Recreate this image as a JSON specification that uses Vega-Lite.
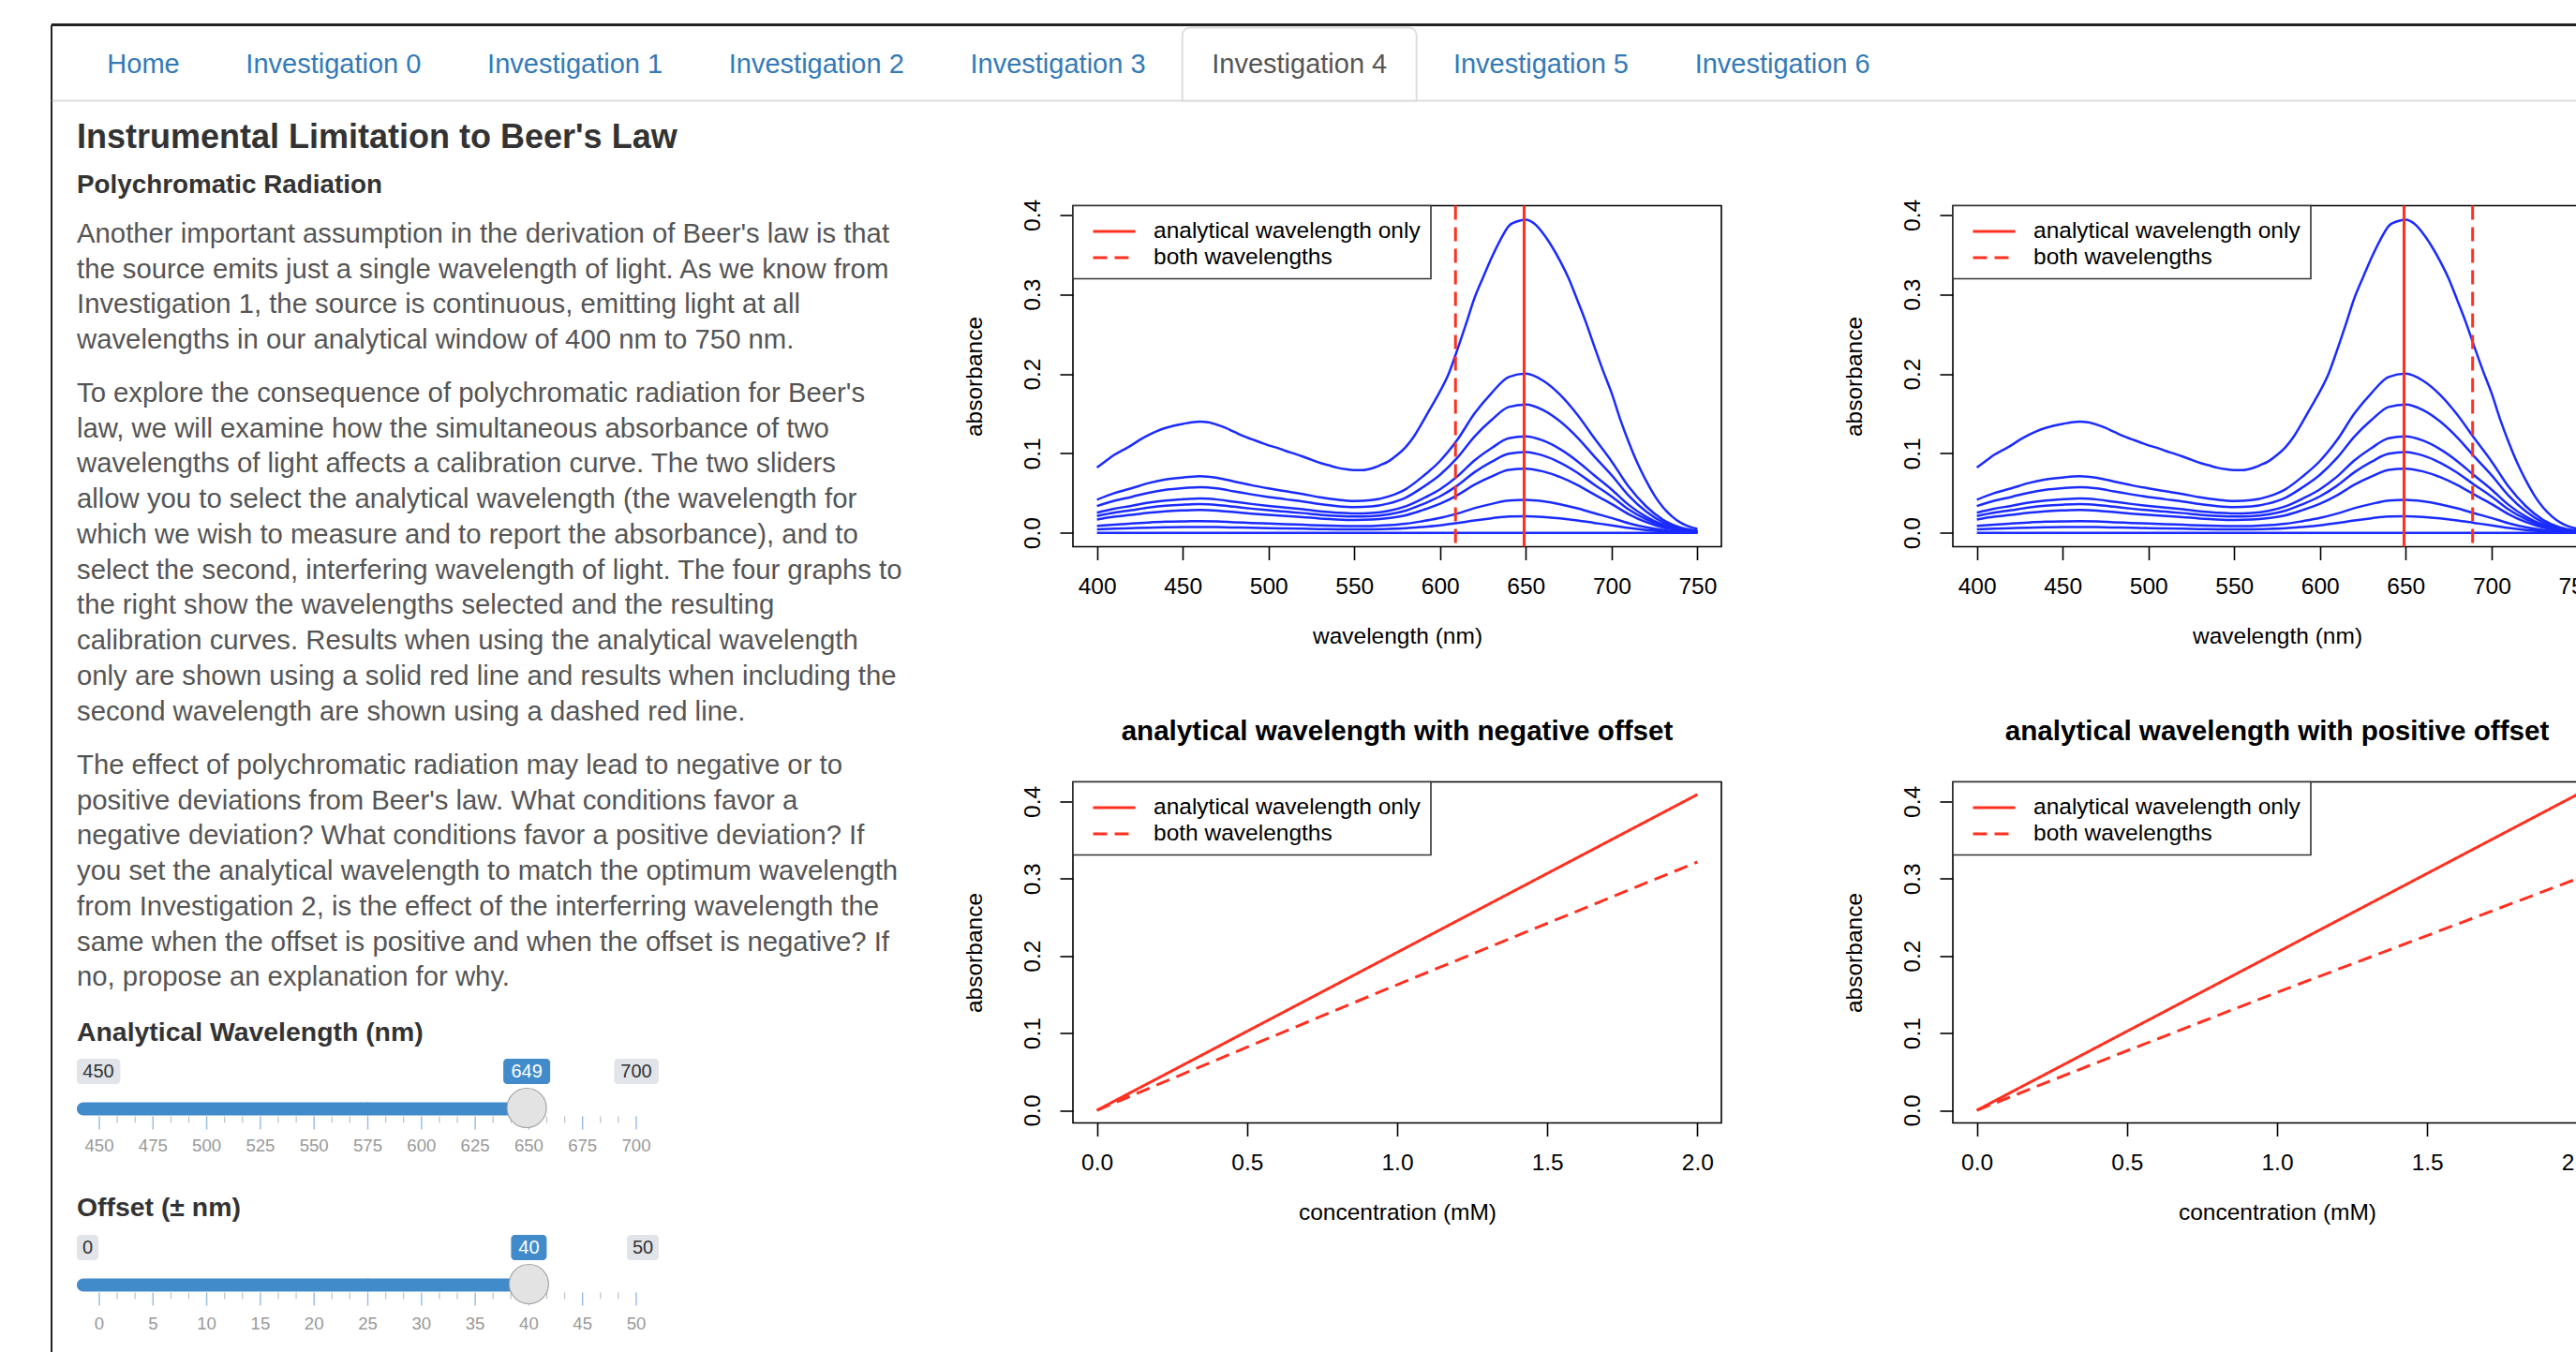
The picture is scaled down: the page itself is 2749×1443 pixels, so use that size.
{
"$schema": "https://vega.github.io/schema/vega-lite/v6.json",
"background": "white",
"padding": {"left": 53, "top": 24.5, "right": 0, "bottom": 0},
"spacing": 81,
"bounds": "flush",
"resolve": {"scale": {"strokeDash": "independent"}, "legend": {"strokeDash": "independent"}},
"config": {
  "view": {"stroke": null},
  "font": "Liberation Sans",
  "axis": {"labelFont": "Liberation Sans", "titleFont": "Liberation Sans", "labelFontSize": 24.5, "titleFontSize": 24.5, "labelColor": "#000000", "titleColor": "#000000", "titleFontWeight": "normal", "tickColor": "#000000", "tickWidth": 1.6, "tickSize": 14, "domain": false, "grid": false, "labelFlush": false, "labelOverlap": false, "labelPadding": 17},
  "axisX": {"titlePadding": 29},
  "axisY": {"labelAngle": -90, "labelAlign": "center", "labelBaseline": "bottom", "titlePadding": 37},
  "legend": {"orient": "top-left", "offset": 0, "padding": 11, "strokeColor": "#333333", "strokeWidth": 1.6, "fillColor": "white", "cornerRadius": 0, "labelFont": "Liberation Sans", "labelFontSize": 24.5, "labelColor": "#000000", "labelLimit": 500, "symbolType": "M-1.5,0H1.5", "symbolSize": 900, "symbolStrokeWidth": 3, "symbolStrokeColor": "#ff3020", "symbolFillColor": "transparent", "symbolOffset": 16.5, "labelOffset": 25.5, "rowPadding": 0},
  "title": {"font": "Liberation Sans", "fontSize": 29.6, "fontWeight": "bold", "color": "#000000", "anchor": "middle", "frame": "group", "offset": 37, "baseline": "alphabetic"}
},
"datasets": {
  "tabs": [
    {"tab": "Home", "active": false},
    {"tab": "Investigation 0", "active": false},
    {"tab": "Investigation 1", "active": false},
    {"tab": "Investigation 2", "active": false},
    {"tab": "Investigation 3", "active": false},
    {"tab": "Investigation 4", "active": true},
    {"tab": "Investigation 5", "active": false},
    {"tab": "Investigation 6", "active": false}
  ],
  "doc": [
    {"block": "title", "line": 1, "text": "Instrumental Limitation to Beer's Law"},
    {"block": "sub", "line": 1, "text": "Polychromatic Radiation"},
    {"block": "p1", "line": 1, "text": "Another important assumption in the derivation of Beer's law is that"},
    {"block": "p1", "line": 2, "text": "the source emits just a single wavelength of light. As we know from"},
    {"block": "p1", "line": 3, "text": "Investigation 1, the source is continuous, emitting light at all"},
    {"block": "p1", "line": 4, "text": "wavelengths in our analytical window of 400 nm to 750 nm."},
    {"block": "p2", "line": 1, "text": "To explore the consequence of polychromatic radiation for Beer's"},
    {"block": "p2", "line": 2, "text": "law, we will examine how the simultaneous absorbance of two"},
    {"block": "p2", "line": 3, "text": "wavelengths of light affects a calibration curve. The two sliders"},
    {"block": "p2", "line": 4, "text": "allow you to select the analytical wavelength (the wavelength for"},
    {"block": "p2", "line": 5, "text": "which we wish to measure and to report the absorbance), and to"},
    {"block": "p2", "line": 6, "text": "select the second, interfering wavelength of light. The four graphs to"},
    {"block": "p2", "line": 7, "text": "the right show the wavelengths selected and the resulting"},
    {"block": "p2", "line": 8, "text": "calibration curves. Results when using the analytical wavelength"},
    {"block": "p2", "line": 9, "text": "only are shown using a solid red line and results when including the"},
    {"block": "p2", "line": 10, "text": "second wavelength are shown using a dashed red line."},
    {"block": "p3", "line": 1, "text": "The effect of polychromatic radiation may lead to negative or to"},
    {"block": "p3", "line": 2, "text": "positive deviations from Beer's law. What conditions favor a"},
    {"block": "p3", "line": 3, "text": "negative deviation? What conditions favor a positive deviation? If"},
    {"block": "p3", "line": 4, "text": "you set the analytical wavelength to match the optimum wavelength"},
    {"block": "p3", "line": 5, "text": "from Investigation 2, is the effect of the interferring wavelength the"},
    {"block": "p3", "line": 6, "text": "same when the offset is positive and when the offset is negative? If"},
    {"block": "p3", "line": 7, "text": "no, propose an explanation for why."},
    {"block": "lab1", "line": 1, "text": "Analytical Wavelength (nm)"},
    {"block": "lab2", "line": 1, "text": "Offset (± nm)"}
  ],
  "sliders": [
    {"id": "wl", "min": 450, "max": 700, "value": 649},
    {"id": "off", "min": 0, "max": 50, "value": 40}
  ],
  "grid": [
    {"id":"wl","v":450,"major":true},{"id":"wl","v":475,"major":true},{"id":"wl","v":500,"major":true},{"id":"wl","v":525,"major":true},{"id":"wl","v":550,"major":true},{"id":"wl","v":575,"major":true},{"id":"wl","v":600,"major":true},{"id":"wl","v":625,"major":true},{"id":"wl","v":650,"major":true},{"id":"wl","v":675,"major":true},{"id":"wl","v":700,"major":true},
    {"id":"wl","v":458.33,"major":false},{"id":"wl","v":466.67,"major":false},{"id":"wl","v":483.33,"major":false},{"id":"wl","v":491.67,"major":false},{"id":"wl","v":508.33,"major":false},{"id":"wl","v":516.67,"major":false},{"id":"wl","v":533.33,"major":false},{"id":"wl","v":541.67,"major":false},{"id":"wl","v":558.33,"major":false},{"id":"wl","v":566.67,"major":false},{"id":"wl","v":583.33,"major":false},{"id":"wl","v":591.67,"major":false},{"id":"wl","v":608.33,"major":false},{"id":"wl","v":616.67,"major":false},{"id":"wl","v":633.33,"major":false},{"id":"wl","v":641.67,"major":false},{"id":"wl","v":658.33,"major":false},{"id":"wl","v":666.67,"major":false},{"id":"wl","v":683.33,"major":false},{"id":"wl","v":691.67,"major":false},
    {"id":"off","v":0,"major":true},{"id":"off","v":5,"major":true},{"id":"off","v":10,"major":true},{"id":"off","v":15,"major":true},{"id":"off","v":20,"major":true},{"id":"off","v":25,"major":true},{"id":"off","v":30,"major":true},{"id":"off","v":35,"major":true},{"id":"off","v":40,"major":true},{"id":"off","v":45,"major":true},{"id":"off","v":50,"major":true},
    {"id":"off","v":1.67,"major":false},{"id":"off","v":3.33,"major":false},{"id":"off","v":6.67,"major":false},{"id":"off","v":8.33,"major":false},{"id":"off","v":11.67,"major":false},{"id":"off","v":13.33,"major":false},{"id":"off","v":16.67,"major":false},{"id":"off","v":18.33,"major":false},{"id":"off","v":21.67,"major":false},{"id":"off","v":23.33,"major":false},{"id":"off","v":26.67,"major":false},{"id":"off","v":28.33,"major":false},{"id":"off","v":31.67,"major":false},{"id":"off","v":33.33,"major":false},{"id":"off","v":36.67,"major":false},{"id":"off","v":38.33,"major":false},{"id":"off","v":41.67,"major":false},{"id":"off","v":43.33,"major":false},{"id":"off","v":46.67,"major":false},{"id":"off","v":48.33,"major":false}
  ],
  "wl": [
    {"panel": "neg", "type": "analytical wavelength only", "w": 649},
    {"panel": "neg", "type": "both wavelengths", "w": 609},
    {"panel": "pos", "type": "analytical wavelength only", "w": 649},
    {"panel": "pos", "type": "both wavelengths", "w": 689}
  ],
  "calib": [
    {"panel":"neg","type":"analytical wavelength only","conc":0,"abs":0},{"panel":"neg","type":"analytical wavelength only","conc":0.1,"abs":0.0205},{"panel":"neg","type":"analytical wavelength only","conc":0.2,"abs":0.0409},{"panel":"neg","type":"analytical wavelength only","conc":0.4,"abs":0.0818},{"panel":"neg","type":"analytical wavelength only","conc":0.5,"abs":0.1023},{"panel":"neg","type":"analytical wavelength only","conc":0.6,"abs":0.1227},{"panel":"neg","type":"analytical wavelength only","conc":0.8,"abs":0.1636},{"panel":"neg","type":"analytical wavelength only","conc":1,"abs":0.2045},{"panel":"neg","type":"analytical wavelength only","conc":2,"abs":0.409},
    {"panel":"neg","type":"both wavelengths","conc":0,"abs":0},{"panel":"neg","type":"both wavelengths","conc":0.1,"abs":0.0164},{"panel":"neg","type":"both wavelengths","conc":0.2,"abs":0.0328},{"panel":"neg","type":"both wavelengths","conc":0.4,"abs":0.0655},{"panel":"neg","type":"both wavelengths","conc":0.5,"abs":0.0818},{"panel":"neg","type":"both wavelengths","conc":0.6,"abs":0.0979},{"panel":"neg","type":"both wavelengths","conc":0.8,"abs":0.1304},{"panel":"neg","type":"both wavelengths","conc":1,"abs":0.1626},{"panel":"neg","type":"both wavelengths","conc":2,"abs":0.3216},
    {"panel":"pos","type":"analytical wavelength only","conc":0,"abs":0},{"panel":"pos","type":"analytical wavelength only","conc":0.1,"abs":0.0205},{"panel":"pos","type":"analytical wavelength only","conc":0.2,"abs":0.0409},{"panel":"pos","type":"analytical wavelength only","conc":0.4,"abs":0.0818},{"panel":"pos","type":"analytical wavelength only","conc":0.5,"abs":0.1023},{"panel":"pos","type":"analytical wavelength only","conc":0.6,"abs":0.1227},{"panel":"pos","type":"analytical wavelength only","conc":0.8,"abs":0.1636},{"panel":"pos","type":"analytical wavelength only","conc":1,"abs":0.2045},{"panel":"pos","type":"analytical wavelength only","conc":2,"abs":0.409},
    {"panel":"pos","type":"both wavelengths","conc":0,"abs":0},{"panel":"pos","type":"both wavelengths","conc":0.1,"abs":0.0155},{"panel":"pos","type":"both wavelengths","conc":0.2,"abs":0.031},{"panel":"pos","type":"both wavelengths","conc":0.4,"abs":0.0618},{"panel":"pos","type":"both wavelengths","conc":0.5,"abs":0.0771},{"panel":"pos","type":"both wavelengths","conc":0.6,"abs":0.0921},{"panel":"pos","type":"both wavelengths","conc":0.8,"abs":0.1225},{"panel":"pos","type":"both wavelengths","conc":1,"abs":0.1527},{"panel":"pos","type":"both wavelengths","conc":2,"abs":0.3}
  ],
  "spectra": [
    {"c":2,"w":400,"a":0.082},{"c":2,"w":405,"a":0.09},{"c":2,"w":410,"a":0.098},{"c":2,"w":415,"a":0.104},{"c":2,"w":420,"a":0.11},{"c":2,"w":425,"a":0.117},{"c":2,"w":430,"a":0.123},{"c":2,"w":435,"a":0.128},{"c":2,"w":440,"a":0.132},{"c":2,"w":445,"a":0.135},{"c":2,"w":450,"a":0.137},{"c":2,"w":455,"a":0.139},{"c":2,"w":460,"a":0.14},{"c":2,"w":465,"a":0.139},{"c":2,"w":470,"a":0.136},{"c":2,"w":475,"a":0.132},{"c":2,"w":480,"a":0.127},{"c":2,"w":485,"a":0.122},{"c":2,"w":490,"a":0.118},{"c":2,"w":495,"a":0.114},{"c":2,"w":500,"a":0.11},{"c":2,"w":505,"a":0.107},{"c":2,"w":510,"a":0.103},{"c":2,"w":515,"a":0.0997},{"c":2,"w":520,"a":0.096},{"c":2,"w":525,"a":0.092},{"c":2,"w":530,"a":0.088},{"c":2,"w":535,"a":0.085},{"c":2,"w":540,"a":0.082},{"c":2,"w":545,"a":0.08},{"c":2,"w":550,"a":0.079},{"c":2,"w":555,"a":0.079},{"c":2,"w":560,"a":0.081},{"c":2,"w":565,"a":0.085},{"c":2,"w":570,"a":0.09},{"c":2,"w":575,"a":0.098},{"c":2,"w":580,"a":0.108},{"c":2,"w":585,"a":0.122},{"c":2,"w":590,"a":0.14},{"c":2,"w":595,"a":0.159},{"c":2,"w":600,"a":0.178},{"c":2,"w":605,"a":0.2},{"c":2,"w":610,"a":0.23},{"c":2,"w":615,"a":0.262},{"c":2,"w":620,"a":0.295},{"c":2,"w":625,"a":0.321},{"c":2,"w":630,"a":0.346},{"c":2,"w":635,"a":0.368},{"c":2,"w":640,"a":0.386},{"c":2,"w":645,"a":0.392},{"c":2,"w":650,"a":0.394},{"c":2,"w":655,"a":0.389},{"c":2,"w":660,"a":0.377},{"c":2,"w":665,"a":0.361},{"c":2,"w":670,"a":0.342},{"c":2,"w":675,"a":0.32},{"c":2,"w":680,"a":0.293},{"c":2,"w":685,"a":0.265},{"c":2,"w":690,"a":0.234},{"c":2,"w":695,"a":0.204},{"c":2,"w":700,"a":0.176},{"c":2,"w":705,"a":0.143},{"c":2,"w":710,"a":0.114},{"c":2,"w":715,"a":0.088},{"c":2,"w":720,"a":0.066},{"c":2,"w":725,"a":0.047},{"c":2,"w":730,"a":0.032},{"c":2,"w":735,"a":0.021},{"c":2,"w":740,"a":0.013},{"c":2,"w":745,"a":0.008},{"c":2,"w":750,"a":0.005},
    {"c":1,"w":400,"a":0.0417},{"c":1,"w":410,"a":0.0498},{"c":1,"w":420,"a":0.0559},{"c":1,"w":430,"a":0.0625},{"c":1,"w":440,"a":0.0671},{"c":1,"w":450,"a":0.0696},{"c":1,"w":460,"a":0.0711},{"c":1,"w":470,"a":0.0691},{"c":1,"w":480,"a":0.0645},{"c":1,"w":490,"a":0.0599},{"c":1,"w":500,"a":0.0559},{"c":1,"w":510,"a":0.0523},{"c":1,"w":520,"a":0.0488},{"c":1,"w":530,"a":0.0447},{"c":1,"w":540,"a":0.0417},{"c":1,"w":550,"a":0.0401},{"c":1,"w":560,"a":0.0411},{"c":1,"w":570,"a":0.0457},{"c":1,"w":580,"a":0.0549},{"c":1,"w":590,"a":0.0711},{"c":1,"w":600,"a":0.0904},{"c":1,"w":610,"a":0.1168},{"c":1,"w":620,"a":0.1499},{"c":1,"w":630,"a":0.1758},{"c":1,"w":640,"a":0.1961},{"c":1,"w":650,"a":0.2002},{"c":1,"w":660,"a":0.1915},{"c":1,"w":670,"a":0.1737},{"c":1,"w":680,"a":0.1488},{"c":1,"w":690,"a":0.1189},{"c":1,"w":700,"a":0.0899},{"c":1,"w":710,"a":0.0579},{"c":1,"w":720,"a":0.0335},{"c":1,"w":730,"a":0.0163},{"c":1,"w":740,"a":0.0066},{"c":1,"w":750,"a":0.0025},
    {"c":0.8,"w":400,"a":0.0336},{"c":0.8,"w":410,"a":0.0402},{"c":0.8,"w":420,"a":0.0451},{"c":0.8,"w":430,"a":0.0504},{"c":0.8,"w":440,"a":0.0541},{"c":0.8,"w":450,"a":0.0562},{"c":0.8,"w":460,"a":0.0574},{"c":0.8,"w":470,"a":0.0558},{"c":0.8,"w":480,"a":0.0521},{"c":0.8,"w":490,"a":0.0484},{"c":0.8,"w":500,"a":0.0451},{"c":0.8,"w":510,"a":0.0422},{"c":0.8,"w":520,"a":0.0394},{"c":0.8,"w":530,"a":0.0361},{"c":0.8,"w":540,"a":0.0336},{"c":0.8,"w":550,"a":0.0324},{"c":0.8,"w":560,"a":0.0332},{"c":0.8,"w":570,"a":0.0369},{"c":0.8,"w":580,"a":0.0443},{"c":0.8,"w":590,"a":0.0574},{"c":0.8,"w":600,"a":0.073},{"c":0.8,"w":610,"a":0.0943},{"c":0.8,"w":620,"a":0.121},{"c":0.8,"w":630,"a":0.1419},{"c":0.8,"w":640,"a":0.1583},{"c":0.8,"w":650,"a":0.1615},{"c":0.8,"w":660,"a":0.1546},{"c":0.8,"w":670,"a":0.1402},{"c":0.8,"w":680,"a":0.1201},{"c":0.8,"w":690,"a":0.0959},{"c":0.8,"w":700,"a":0.0726},{"c":0.8,"w":710,"a":0.0467},{"c":0.8,"w":720,"a":0.0271},{"c":0.8,"w":730,"a":0.0131},{"c":0.8,"w":740,"a":0.0053},{"c":0.8,"w":750,"a":0.0021},
    {"c":0.6,"w":400,"a":0.0253},{"c":0.6,"w":410,"a":0.0302},{"c":0.6,"w":420,"a":0.0339},{"c":0.6,"w":430,"a":0.0379},{"c":0.6,"w":440,"a":0.0407},{"c":0.6,"w":450,"a":0.0422},{"c":0.6,"w":460,"a":0.0431},{"c":0.6,"w":470,"a":0.0419},{"c":0.6,"w":480,"a":0.0391},{"c":0.6,"w":490,"a":0.0363},{"c":0.6,"w":500,"a":0.0339},{"c":0.6,"w":510,"a":0.0317},{"c":0.6,"w":520,"a":0.0296},{"c":0.6,"w":530,"a":0.0271},{"c":0.6,"w":540,"a":0.0253},{"c":0.6,"w":550,"a":0.0243},{"c":0.6,"w":560,"a":0.025},{"c":0.6,"w":570,"a":0.0277},{"c":0.6,"w":580,"a":0.0333},{"c":0.6,"w":590,"a":0.0431},{"c":0.6,"w":600,"a":0.0548},{"c":0.6,"w":610,"a":0.0708},{"c":0.6,"w":620,"a":0.0909},{"c":0.6,"w":630,"a":0.1066},{"c":0.6,"w":640,"a":0.1189},{"c":0.6,"w":650,"a":0.1214},{"c":0.6,"w":660,"a":0.1161},{"c":0.6,"w":670,"a":0.1053},{"c":0.6,"w":680,"a":0.0902},{"c":0.6,"w":690,"a":0.0721},{"c":0.6,"w":700,"a":0.0545},{"c":0.6,"w":710,"a":0.0351},{"c":0.6,"w":720,"a":0.0203},{"c":0.6,"w":730,"a":0.0099},{"c":0.6,"w":740,"a":0.004},{"c":0.6,"w":750,"a":0.0015},
    {"c":0.5,"w":400,"a":0.0212},{"c":0.5,"w":410,"a":0.0253},{"c":0.5,"w":420,"a":0.0284},{"c":0.5,"w":430,"a":0.0317},{"c":0.5,"w":440,"a":0.0341},{"c":0.5,"w":450,"a":0.0354},{"c":0.5,"w":460,"a":0.0361},{"c":0.5,"w":470,"a":0.0351},{"c":0.5,"w":480,"a":0.0328},{"c":0.5,"w":490,"a":0.0304},{"c":0.5,"w":500,"a":0.0284},{"c":0.5,"w":510,"a":0.0266},{"c":0.5,"w":520,"a":0.0248},{"c":0.5,"w":530,"a":0.0227},{"c":0.5,"w":540,"a":0.0212},{"c":0.5,"w":550,"a":0.0204},{"c":0.5,"w":560,"a":0.0209},{"c":0.5,"w":570,"a":0.0232},{"c":0.5,"w":580,"a":0.0279},{"c":0.5,"w":590,"a":0.0361},{"c":0.5,"w":600,"a":0.0459},{"c":0.5,"w":610,"a":0.0593},{"c":0.5,"w":620,"a":0.0761},{"c":0.5,"w":630,"a":0.0893},{"c":0.5,"w":640,"a":0.0996},{"c":0.5,"w":650,"a":0.1017},{"c":0.5,"w":660,"a":0.0973},{"c":0.5,"w":670,"a":0.0882},{"c":0.5,"w":680,"a":0.0756},{"c":0.5,"w":690,"a":0.0604},{"c":0.5,"w":700,"a":0.0457},{"c":0.5,"w":710,"a":0.0294},{"c":0.5,"w":720,"a":0.017},{"c":0.5,"w":730,"a":0.0083},{"c":0.5,"w":740,"a":0.0034},{"c":0.5,"w":750,"a":0.0013},
    {"c":0.4,"w":400,"a":0.0168},{"c":0.4,"w":410,"a":0.0201},{"c":0.4,"w":420,"a":0.0226},{"c":0.4,"w":430,"a":0.0252},{"c":0.4,"w":440,"a":0.0271},{"c":0.4,"w":450,"a":0.0281},{"c":0.4,"w":460,"a":0.0287},{"c":0.4,"w":470,"a":0.0279},{"c":0.4,"w":480,"a":0.026},{"c":0.4,"w":490,"a":0.0242},{"c":0.4,"w":500,"a":0.0226},{"c":0.4,"w":510,"a":0.0211},{"c":0.4,"w":520,"a":0.0197},{"c":0.4,"w":530,"a":0.018},{"c":0.4,"w":540,"a":0.0168},{"c":0.4,"w":550,"a":0.0162},{"c":0.4,"w":560,"a":0.0166},{"c":0.4,"w":570,"a":0.0185},{"c":0.4,"w":580,"a":0.0221},{"c":0.4,"w":590,"a":0.0287},{"c":0.4,"w":600,"a":0.0365},{"c":0.4,"w":610,"a":0.0472},{"c":0.4,"w":620,"a":0.0605},{"c":0.4,"w":630,"a":0.0709},{"c":0.4,"w":640,"a":0.0791},{"c":0.4,"w":650,"a":0.0808},{"c":0.4,"w":660,"a":0.0773},{"c":0.4,"w":670,"a":0.0701},{"c":0.4,"w":680,"a":0.0601},{"c":0.4,"w":690,"a":0.048},{"c":0.4,"w":700,"a":0.0363},{"c":0.4,"w":710,"a":0.0234},{"c":0.4,"w":720,"a":0.0135},{"c":0.4,"w":730,"a":0.0066},{"c":0.4,"w":740,"a":0.0027},{"c":0.4,"w":750,"a":0.001},
    {"c":0.2,"w":400,"a":0.0086},{"c":0.2,"w":410,"a":0.0103},{"c":0.2,"w":420,"a":0.0116},{"c":0.2,"w":430,"a":0.0129},{"c":0.2,"w":440,"a":0.0139},{"c":0.2,"w":450,"a":0.0144},{"c":0.2,"w":460,"a":0.0147},{"c":0.2,"w":470,"a":0.0143},{"c":0.2,"w":480,"a":0.0133},{"c":0.2,"w":490,"a":0.0124},{"c":0.2,"w":500,"a":0.0116},{"c":0.2,"w":510,"a":0.0108},{"c":0.2,"w":520,"a":0.0101},{"c":0.2,"w":530,"a":0.0092},{"c":0.2,"w":540,"a":0.0086},{"c":0.2,"w":550,"a":0.0083},{"c":0.2,"w":560,"a":0.0085},{"c":0.2,"w":570,"a":0.0095},{"c":0.2,"w":580,"a":0.0113},{"c":0.2,"w":590,"a":0.0147},{"c":0.2,"w":600,"a":0.0187},{"c":0.2,"w":610,"a":0.0242},{"c":0.2,"w":620,"a":0.031},{"c":0.2,"w":630,"a":0.0363},{"c":0.2,"w":640,"a":0.0405},{"c":0.2,"w":650,"a":0.0414},{"c":0.2,"w":660,"a":0.0396},{"c":0.2,"w":670,"a":0.0359},{"c":0.2,"w":680,"a":0.0308},{"c":0.2,"w":690,"a":0.0246},{"c":0.2,"w":700,"a":0.0186},{"c":0.2,"w":710,"a":0.012},{"c":0.2,"w":720,"a":0.0069},{"c":0.2,"w":730,"a":0.0034},{"c":0.2,"w":740,"a":0.0014},{"c":0.2,"w":750,"a":0.0005},
    {"c":0.1,"w":400,"a":0.0043},{"c":0.1,"w":410,"a":0.0052},{"c":0.1,"w":420,"a":0.0058},{"c":0.1,"w":430,"a":0.0065},{"c":0.1,"w":440,"a":0.007},{"c":0.1,"w":450,"a":0.0073},{"c":0.1,"w":460,"a":0.0074},{"c":0.1,"w":470,"a":0.0072},{"c":0.1,"w":480,"a":0.0067},{"c":0.1,"w":490,"a":0.0063},{"c":0.1,"w":500,"a":0.0058},{"c":0.1,"w":510,"a":0.0055},{"c":0.1,"w":520,"a":0.0051},{"c":0.1,"w":530,"a":0.0047},{"c":0.1,"w":540,"a":0.0043},{"c":0.1,"w":550,"a":0.0042},{"c":0.1,"w":560,"a":0.0043},{"c":0.1,"w":570,"a":0.0048},{"c":0.1,"w":580,"a":0.0057},{"c":0.1,"w":590,"a":0.0074},{"c":0.1,"w":600,"a":0.0094},{"c":0.1,"w":610,"a":0.0122},{"c":0.1,"w":620,"a":0.0156},{"c":0.1,"w":630,"a":0.0183},{"c":0.1,"w":640,"a":0.0205},{"c":0.1,"w":650,"a":0.0209},{"c":0.1,"w":660,"a":0.02},{"c":0.1,"w":670,"a":0.0181},{"c":0.1,"w":680,"a":0.0155},{"c":0.1,"w":690,"a":0.0124},{"c":0.1,"w":700,"a":0.0094},{"c":0.1,"w":710,"a":0.006},{"c":0.1,"w":720,"a":0.0035},{"c":0.1,"w":730,"a":0.0017},{"c":0.1,"w":740,"a":0.0007},{"c":0.1,"w":750,"a":0.0003},
    {"c":0,"w":400,"a":0},{"c":0,"w":410,"a":0},{"c":0,"w":420,"a":0},{"c":0,"w":430,"a":0},{"c":0,"w":440,"a":0},{"c":0,"w":450,"a":0},{"c":0,"w":460,"a":0},{"c":0,"w":470,"a":0},{"c":0,"w":480,"a":0},{"c":0,"w":490,"a":0},{"c":0,"w":500,"a":0},{"c":0,"w":510,"a":0},{"c":0,"w":520,"a":0},{"c":0,"w":530,"a":0},{"c":0,"w":540,"a":0},{"c":0,"w":550,"a":0},{"c":0,"w":560,"a":0},{"c":0,"w":570,"a":0},{"c":0,"w":580,"a":0},{"c":0,"w":590,"a":0},{"c":0,"w":600,"a":0},{"c":0,"w":610,"a":0},{"c":0,"w":620,"a":0},{"c":0,"w":630,"a":0},{"c":0,"w":640,"a":0},{"c":0,"w":650,"a":0},{"c":0,"w":660,"a":0},{"c":0,"w":670,"a":0},{"c":0,"w":680,"a":0},{"c":0,"w":690,"a":0},{"c":0,"w":700,"a":0},{"c":0,"w":710,"a":0},{"c":0,"w":720,"a":0},{"c":0,"w":730,"a":0},{"c":0,"w":740,"a":0},{"c":0,"w":750,"a":0}
  ]
},
"vconcat": [
  {
    "hconcat": [
      {
        "width": 172, "height": 81,
        "data": {"name": "tabs"},
        "layer": [
          {"transform": [{"filter": "datum.tab == 'Home'"}], "mark": {"type": "rule", "color": "#dddddd", "strokeWidth": 2},
           "encoding": {"y": {"datum": 0, "type": "quantitative", "scale": {"domain": [0, 1], "nice": false, "zero": false}, "axis": null}}},
          {"transform": [{"filter": "datum.tab == 'Home'"}], "mark": {"type": "text", "fontSize": 29, "color": "#337ab7", "baseline": "middle", "align": "center", "dx": 12},
           "encoding": {"y": {"datum": 0.47, "type": "quantitative", "axis": null}, "text": {"field": "tab"}}},
          {"transform": [{"filter": "datum.tab == 'Home'"}], "mark": {"type": "rule", "color": "#222222", "strokeWidth": 2},
           "encoding": {"x": {"datum": 0, "type": "quantitative", "scale": {"domain": [0, 1], "nice": false, "zero": false}, "axis": null}}},
          {"transform": [{"filter": "datum.tab == 'Home'"}], "mark": {"type": "rule", "color": "#222222", "strokeWidth": 3},
           "encoding": {"y": {"datum": 1, "type": "quantitative", "axis": null}}}
        ]
      },
      {
        "width": 1804, "height": 81,
        "data": {"name": "tabs"},
        "layer": [
          {"transform": [{"filter": "datum.tab == 'Home'"}], "mark": {"type": "rule", "color": "#dddddd", "strokeWidth": 2},
           "encoding": {"y": {"datum": 0, "type": "quantitative", "scale": {"domain": [0, 1], "nice": false, "zero": false}, "axis": null}}},
          {"transform": [{"filter": "datum.active"}], "mark": {"type": "bar", "fill": "white", "stroke": "#dddddd", "strokeWidth": 2, "cornerRadiusTopLeft": 8, "cornerRadiusTopRight": 8, "width": {"band": 0.97}},
           "encoding": {
             "x": {"field": "tab", "type": "nominal", "scale": {"type": "band", "domain": ["Investigation 0", "Investigation 1", "Investigation 2", "Investigation 3", "Investigation 4", "Investigation 5", "Investigation 6"], "paddingInner": 0, "paddingOuter": 0}, "axis": null},
             "y": {"datum": 0.963, "type": "quantitative", "axis": null}, "y2": {"datum": 0}}},
          {"transform": [{"filter": "datum.tab != 'Home'"}], "mark": {"type": "text", "fontSize": 29, "baseline": "middle", "align": "center"},
           "encoding": {
             "x": {"field": "tab", "type": "nominal", "axis": null},
             "y": {"datum": 0.47, "type": "quantitative", "axis": null},
             "text": {"field": "tab"},
             "color": {"condition": {"test": "datum.active", "value": "#555555"}, "value": "#337ab7"}}},
          {"transform": [{"filter": "datum.tab == 'Home'"}], "mark": {"type": "rule", "color": "#222222", "strokeWidth": 3},
           "encoding": {"y": {"datum": 1, "type": "quantitative", "axis": null}}}
        ]
      },
      {
        "width": 719, "height": 81,
        "data": {"name": "tabs"},
        "transform": [{"filter": "datum.tab == 'Home'"}],
        "layer": [
          {"mark": {"type": "rule", "color": "#dddddd", "strokeWidth": 2},
           "encoding": {"y": {"datum": 0, "type": "quantitative", "scale": {"domain": [0, 1], "nice": false, "zero": false}, "axis": null}}},
          {"mark": {"type": "rule", "color": "#222222", "strokeWidth": 3},
           "encoding": {"y": {"datum": 1, "type": "quantitative", "axis": null}}}
        ]
      }
    ],
    "spacing": 0, "bounds": "flush"
  },
  {
    "hconcat": [
      {
        "hconcat": [
          {"width": 1, "height": 1336, "data": {"values": [{"edge": 0}]}, "mark": {"type": "rule", "color": "#222222", "strokeWidth": 2},
           "encoding": {"x": {"datum": 0, "type": "quantitative", "scale": {"domain": [0, 1]}, "axis": null}}},
          {
            "vconcat": [
              {"width": 1037, "height": 79, "data": {"name": "doc"}, "transform": [{"filter": "datum.block == 'title'"}],
               "mark": {"type": "text", "align": "left", "baseline": "middle", "fontSize": 36, "fontWeight": "bold", "color": "#333333"},
               "encoding": {"x": {"datum": 0, "type": "quantitative", "scale": {"domain": [0, 1]}, "axis": null}, "y": {"field": "line", "type": "ordinal", "scale": {"type": "point", "padding": 0.75}, "axis": null}, "text": {"field": "text"}}},
              {"width": 1037, "height": 34.2, "data": {"name": "doc"}, "transform": [{"filter": "datum.block == 'sub'"}],
               "mark": {"type": "text", "align": "left", "baseline": "alphabetic", "dy": 2.5, "fontSize": 27.8, "fontWeight": "bold", "color": "#333333"},
               "encoding": {"x": {"datum": 0, "type": "quantitative", "scale": {"domain": [0, 1]}, "axis": null}, "y": {"field": "line", "type": "ordinal", "scale": {"type": "point", "padding": 0.75}, "axis": null}, "text": {"field": "text"}}},
              {"width": 1037, "height": 169.875, "data": {"name": "doc"}, "transform": [{"filter": "datum.block == 'p1'"}],
               "mark": {"type": "text", "align": "left", "baseline": "middle", "fontSize": 29.3, "color": "#555555"},
               "encoding": {"x": {"datum": 0, "type": "quantitative", "scale": {"domain": [0, 1]}, "axis": null}, "y": {"field": "line", "type": "ordinal", "scale": {"type": "point", "padding": 0.75}, "axis": null}, "text": {"field": "text"}}},
              {"width": 1037, "height": 396.375, "data": {"name": "doc"}, "transform": [{"filter": "datum.block == 'p2'"}],
               "mark": {"type": "text", "align": "left", "baseline": "middle", "fontSize": 29.3, "color": "#555555"},
               "encoding": {"x": {"datum": 0, "type": "quantitative", "scale": {"domain": [0, 1]}, "axis": null}, "y": {"field": "line", "type": "ordinal", "scale": {"type": "point", "padding": 0.75}, "axis": null}, "text": {"field": "text"}}},
              {"width": 1037, "height": 283.125, "data": {"name": "doc"}, "transform": [{"filter": "datum.block == 'p3'"}],
               "mark": {"type": "text", "align": "left", "baseline": "middle", "fontSize": 29.3, "color": "#555555"},
               "encoding": {"x": {"datum": 0, "type": "quantitative", "scale": {"domain": [0, 1]}, "axis": null}, "y": {"field": "line", "type": "ordinal", "scale": {"type": "point", "padding": 0.75}, "axis": null}, "text": {"field": "text"}}},
              {"width": 1037, "height": 58.6, "data": {"name": "doc"}, "transform": [{"filter": "datum.block == 'lab1'"}],
               "mark": {"type": "text", "align": "left", "baseline": "middle", "fontSize": 28.4, "fontWeight": "bold", "color": "#333333"},
               "encoding": {"x": {"datum": 0, "type": "quantitative", "scale": {"domain": [0, 1]}, "axis": null}, "y": {"field": "line", "type": "ordinal", "scale": {"type": "point", "padding": 0.75}, "axis": null}, "text": {"field": "text"}}},
              {
                "width": 621, "height": 124.4,
                "layer": [
                  {"data": {"name": "sliders"}, "transform": [{"filter": "datum.id == 'wl'"}],
                   "mark": {"type": "bar", "fill": "#ececec", "stroke": "#cccccc", "strokeWidth": 1, "cornerRadius": 7},
                   "encoding": {"y": {"datum": 45, "type": "quantitative", "scale": {"domain": [0, 124.4], "reverse": true, "nice": false, "zero": false}, "axis": null}, "y2": {"datum": 59}}},
                  {"data": {"name": "sliders"}, "transform": [{"filter": "datum.id == 'wl'"}],
                   "mark": {"type": "bar", "fill": "#428bca", "cornerRadiusTopLeft": 7, "cornerRadiusBottomLeft": 7, "xOffset": -24},
                   "encoding": {"x": {"field": "min", "type": "quantitative", "scale": {"domain": [450, 700], "padding": 24, "nice": false, "zero": false}, "axis": null}, "x2": {"field": "value"}, "y": {"datum": 45, "type": "quantitative", "axis": null}, "y2": {"datum": 59}}},
                  {"data": {"name": "grid"}, "transform": [{"filter": "datum.id == 'wl' && datum.major"}],
                   "mark": {"type": "rule", "color": "#9dbfe3", "strokeWidth": 1.5},
                   "encoding": {"x": {"field": "v", "type": "quantitative", "axis": null}, "y": {"datum": 60, "type": "quantitative", "axis": null}, "y2": {"datum": 74}}},
                  {"data": {"name": "grid"}, "transform": [{"filter": "datum.id == 'wl' && !datum.major"}],
                   "mark": {"type": "rule", "color": "#c0c0c0", "strokeWidth": 1.2},
                   "encoding": {"x": {"field": "v", "type": "quantitative", "axis": null}, "y": {"datum": 60, "type": "quantitative", "axis": null}, "y2": {"datum": 67}}},
                  {"data": {"name": "grid"}, "transform": [{"filter": "datum.id == 'wl' && datum.major"}],
                   "mark": {"type": "text", "fontSize": 18.6, "color": "#999999", "align": "center", "baseline": "middle"},
                   "encoding": {"x": {"field": "v", "type": "quantitative", "axis": null}, "y": {"datum": 91.3, "type": "quantitative", "axis": null}, "text": {"field": "v", "type": "quantitative", "format": "d"}}},
                  {"data": {"name": "sliders"}, "transform": [{"filter": "datum.id == 'wl'"}],
                   "mark": {"type": "bar", "fill": "#e1e4e9", "cornerRadius": 4, "xOffset": -24, "x2Offset": 22.4},
                   "encoding": {"x": {"field": "min", "type": "quantitative", "axis": null}, "x2": {"field": "min"}, "y": {"datum": -1.5, "type": "quantitative", "axis": null}, "y2": {"datum": 25.5}}},
                  {"data": {"name": "sliders"}, "transform": [{"filter": "datum.id == 'wl'"}],
                   "mark": {"type": "text", "fontSize": 20, "color": "#333333", "align": "center", "baseline": "middle", "dx": -1},
                   "encoding": {"x": {"field": "min", "type": "quantitative", "axis": null}, "y": {"datum": 12, "type": "quantitative", "axis": null}, "text": {"field": "min", "type": "quantitative", "format": "d"}}},
                  {"data": {"name": "sliders"}, "transform": [{"filter": "datum.id == 'wl'"}],
                   "mark": {"type": "bar", "fill": "#e1e4e9", "cornerRadius": 4, "xOffset": -23.5, "x2Offset": 24},
                   "encoding": {"x": {"field": "max", "type": "quantitative", "axis": null}, "x2": {"field": "max"}, "y": {"datum": -1.5, "type": "quantitative", "axis": null}, "y2": {"datum": 25.5}}},
                  {"data": {"name": "sliders"}, "transform": [{"filter": "datum.id == 'wl'"}],
                   "mark": {"type": "text", "fontSize": 20, "color": "#333333", "align": "center", "baseline": "middle"},
                   "encoding": {"x": {"field": "max", "type": "quantitative", "axis": null}, "y": {"datum": 12, "type": "quantitative", "axis": null}, "text": {"field": "max", "type": "quantitative", "format": "d"}}},
                  {"data": {"name": "sliders"}, "transform": [{"filter": "datum.id == 'wl'"}],
                   "mark": {"type": "bar", "fill": "#428bca", "cornerRadius": 4, "xOffset": -25, "x2Offset": 25},
                   "encoding": {"x": {"field": "value", "type": "quantitative", "axis": null}, "x2": {"field": "value"}, "y": {"datum": -1.5, "type": "quantitative", "axis": null}, "y2": {"datum": 25.5}}},
                  {"data": {"name": "sliders"}, "transform": [{"filter": "datum.id == 'wl'"}],
                   "mark": {"type": "text", "fontSize": 20, "color": "white", "align": "center", "baseline": "middle"},
                   "encoding": {"x": {"field": "value", "type": "quantitative", "axis": null}, "y": {"datum": 12, "type": "quantitative", "axis": null}, "text": {"field": "value", "type": "quantitative", "format": "d"}}},
                  {"data": {"name": "sliders"}, "transform": [{"filter": "datum.id == 'wl'"}],
                   "mark": {"type": "point", "shape": "circle", "size": 1764, "filled": true, "fill": "#e3e3e3", "stroke": "#a3a3a3", "strokeWidth": 1.2, "opacity": 1},
                   "encoding": {"x": {"field": "value", "type": "quantitative", "axis": null}, "y": {"datum": 51, "type": "quantitative", "axis": null}}}
                ]
              },
              {"width": 1037, "height": 62.5, "data": {"name": "doc"}, "transform": [{"filter": "datum.block == 'lab2'"}],
               "mark": {"type": "text", "align": "left", "baseline": "middle", "dy": 1, "fontSize": 28.4, "fontWeight": "bold", "color": "#333333"},
               "encoding": {"x": {"datum": 0, "type": "quantitative", "scale": {"domain": [0, 1]}, "axis": null}, "y": {"field": "line", "type": "ordinal", "scale": {"type": "point", "padding": 0.75}, "axis": null}, "text": {"field": "text"}}},
              {
                "width": 621, "height": 124.4,
                "layer": [
                  {"data": {"name": "sliders"}, "transform": [{"filter": "datum.id == 'off'"}],
                   "mark": {"type": "bar", "fill": "#ececec", "stroke": "#cccccc", "strokeWidth": 1, "cornerRadius": 7},
                   "encoding": {"y": {"datum": 45, "type": "quantitative", "scale": {"domain": [0, 124.4], "reverse": true, "nice": false, "zero": false}, "axis": null}, "y2": {"datum": 59}}},
                  {"data": {"name": "sliders"}, "transform": [{"filter": "datum.id == 'off'"}],
                   "mark": {"type": "bar", "fill": "#428bca", "cornerRadiusTopLeft": 7, "cornerRadiusBottomLeft": 7, "xOffset": -24},
                   "encoding": {"x": {"field": "min", "type": "quantitative", "scale": {"domain": [0, 50], "padding": 24, "nice": false, "zero": false}, "axis": null}, "x2": {"field": "value"}, "y": {"datum": 45, "type": "quantitative", "axis": null}, "y2": {"datum": 59}}},
                  {"data": {"name": "grid"}, "transform": [{"filter": "datum.id == 'off' && datum.major"}],
                   "mark": {"type": "rule", "color": "#9dbfe3", "strokeWidth": 1.5},
                   "encoding": {"x": {"field": "v", "type": "quantitative", "axis": null}, "y": {"datum": 60, "type": "quantitative", "axis": null}, "y2": {"datum": 74}}},
                  {"data": {"name": "grid"}, "transform": [{"filter": "datum.id == 'off' && !datum.major"}],
                   "mark": {"type": "rule", "color": "#c0c0c0", "strokeWidth": 1.2},
                   "encoding": {"x": {"field": "v", "type": "quantitative", "axis": null}, "y": {"datum": 60, "type": "quantitative", "axis": null}, "y2": {"datum": 67}}},
                  {"data": {"name": "grid"}, "transform": [{"filter": "datum.id == 'off' && datum.major"}],
                   "mark": {"type": "text", "fontSize": 18.6, "color": "#999999", "align": "center", "baseline": "middle"},
                   "encoding": {"x": {"field": "v", "type": "quantitative", "axis": null}, "y": {"datum": 93.3, "type": "quantitative", "axis": null}, "text": {"field": "v", "type": "quantitative", "format": "d"}}},
                  {"data": {"name": "sliders"}, "transform": [{"filter": "datum.id == 'off'"}],
                   "mark": {"type": "bar", "fill": "#e1e4e9", "cornerRadius": 4, "xOffset": -24, "x2Offset": -1},
                   "encoding": {"x": {"field": "min", "type": "quantitative", "axis": null}, "x2": {"field": "min"}, "y": {"datum": -1.5, "type": "quantitative", "axis": null}, "y2": {"datum": 25.5}}},
                  {"data": {"name": "sliders"}, "transform": [{"filter": "datum.id == 'off'"}],
                   "mark": {"type": "text", "fontSize": 20, "color": "#333333", "align": "center", "baseline": "middle", "dx": -12.5},
                   "encoding": {"x": {"field": "min", "type": "quantitative", "axis": null}, "y": {"datum": 12, "type": "quantitative", "axis": null}, "text": {"field": "min", "type": "quantitative", "format": "d"}}},
                  {"data": {"name": "sliders"}, "transform": [{"filter": "datum.id == 'off'"}],
                   "mark": {"type": "bar", "fill": "#e1e4e9", "cornerRadius": 4, "xOffset": -10, "x2Offset": 24},
                   "encoding": {"x": {"field": "max", "type": "quantitative", "axis": null}, "x2": {"field": "max"}, "y": {"datum": -1.5, "type": "quantitative", "axis": null}, "y2": {"datum": 25.5}}},
                  {"data": {"name": "sliders"}, "transform": [{"filter": "datum.id == 'off'"}],
                   "mark": {"type": "text", "fontSize": 20, "color": "#333333", "align": "center", "baseline": "middle", "dx": 7},
                   "encoding": {"x": {"field": "max", "type": "quantitative", "axis": null}, "y": {"datum": 12, "type": "quantitative", "axis": null}, "text": {"field": "max", "type": "quantitative", "format": "d"}}},
                  {"data": {"name": "sliders"}, "transform": [{"filter": "datum.id == 'off'"}],
                   "mark": {"type": "bar", "fill": "#428bca", "cornerRadius": 4, "xOffset": -19, "x2Offset": 19},
                   "encoding": {"x": {"field": "value", "type": "quantitative", "axis": null}, "x2": {"field": "value"}, "y": {"datum": -1.5, "type": "quantitative", "axis": null}, "y2": {"datum": 25.5}}},
                  {"data": {"name": "sliders"}, "transform": [{"filter": "datum.id == 'off'"}],
                   "mark": {"type": "text", "fontSize": 20, "color": "white", "align": "center", "baseline": "middle"},
                   "encoding": {"x": {"field": "value", "type": "quantitative", "axis": null}, "y": {"datum": 12, "type": "quantitative", "axis": null}, "text": {"field": "value", "type": "quantitative", "format": "d"}}},
                  {"data": {"name": "sliders"}, "transform": [{"filter": "datum.id == 'off'"}],
                   "mark": {"type": "point", "shape": "circle", "size": 1764, "filled": true, "fill": "#e3e3e3", "stroke": "#a3a3a3", "strokeWidth": 1.2, "opacity": 1},
                   "encoding": {"x": {"field": "value", "type": "quantitative", "axis": null}, "y": {"datum": 51, "type": "quantitative", "axis": null}}}
                ]
              }
            ],
            "spacing": 0, "bounds": "flush"
          }
        ],
        "spacing": 26, "bounds": "flush"
      },
      {
        "vconcat": [
          {"width": 1, "height": 112, "data": {"values": [{"gap": 1}]}, "mark": {"type": "point", "opacity": 0}},
          {
            "hconcat": [
              {
                "width": 692, "height": 364,
                "view": {"stroke": "#000000", "strokeWidth": 1.6},
                "layer": [
                  {"data": {"name": "spectra"},
                   "mark": {"type": "line", "color": "#1a2bff", "strokeWidth": 2.5, "interpolate": "monotone"},
                   "encoding": {
                     "x": {"field": "w", "type": "quantitative", "scale": {"domain": [386, 764], "nice": false, "zero": false}, "axis": {"title": "wavelength (nm)", "values": [400, 450, 500, 550, 600, 650, 700, 750], "format": "d"}},
                     "y": {"field": "a", "type": "quantitative", "scale": {"domain": [-0.0175, 0.4117], "nice": false, "zero": false}, "axis": {"title": "absorbance", "values": [0, 0.1, 0.2, 0.3, 0.4], "format": ".1f"}},
                     "detail": {"field": "c", "type": "nominal"}}},
                  {"data": {"name": "wl"}, "transform": [{"filter": "datum.panel == 'neg'"}],
                   "mark": {"type": "rule", "color": "#ff3020", "strokeWidth": 3},
                   "encoding": {
                     "x": {"field": "w", "type": "quantitative"},
                     "strokeDash": {"field": "type", "type": "nominal", "scale": {"domain": ["analytical wavelength only", "both wavelengths"], "range": [[1, 0], [15, 8]]}, "legend": {"title": null}}}}
                ]
              },
              {
                "width": 692, "height": 364,
                "view": {"stroke": "#000000", "strokeWidth": 1.6},
                "layer": [
                  {"data": {"name": "spectra"},
                   "mark": {"type": "line", "color": "#1a2bff", "strokeWidth": 2.5, "interpolate": "monotone"},
                   "encoding": {
                     "x": {"field": "w", "type": "quantitative", "scale": {"domain": [386, 764], "nice": false, "zero": false}, "axis": {"title": "wavelength (nm)", "values": [400, 450, 500, 550, 600, 650, 700, 750], "format": "d"}},
                     "y": {"field": "a", "type": "quantitative", "scale": {"domain": [-0.0175, 0.4117], "nice": false, "zero": false}, "axis": {"title": "absorbance", "values": [0, 0.1, 0.2, 0.3, 0.4], "format": ".1f"}},
                     "detail": {"field": "c", "type": "nominal"}}},
                  {"data": {"name": "wl"}, "transform": [{"filter": "datum.panel == 'pos'"}],
                   "mark": {"type": "rule", "color": "#ff3020", "strokeWidth": 3},
                   "encoding": {
                     "x": {"field": "w", "type": "quantitative"},
                     "strokeDash": {"field": "type", "type": "nominal", "scale": {"domain": ["analytical wavelength only", "both wavelengths"], "range": [[1, 0], [15, 8]]}, "legend": {"title": null}}}}
                ]
              }
            ],
            "spacing": 247, "bounds": "flush",
            "resolve": {"scale": {"strokeDash": "independent"}, "legend": {"strokeDash": "independent"}}
          },
          {"width": 1, "height": 615, "data": {"values": [{"gap": 1}]}, "mark": {"type": "point", "opacity": 0}},
          {
            "hconcat": [
              {
                "width": 692, "height": 364,
                "view": {"stroke": "#000000", "strokeWidth": 1.6},
                "title": {"text": "analytical wavelength with negative offset"},
                "data": {"name": "calib"},
                "transform": [{"filter": "datum.panel == 'neg'"}],
                "mark": {"type": "line", "color": "#ff3020", "strokeWidth": 3},
                "encoding": {
                  "x": {"field": "conc", "type": "quantitative", "scale": {"domain": [-0.08, 2.08], "nice": false, "zero": false}, "axis": {"title": "concentration (mM)", "values": [0, 0.5, 1, 1.5, 2], "format": ".1f"}},
                  "y": {"field": "abs", "type": "quantitative", "scale": {"domain": [-0.01636, 0.42536], "nice": false, "zero": false}, "axis": {"title": "absorbance", "values": [0, 0.1, 0.2, 0.3, 0.4], "format": ".1f"}},
                  "strokeDash": {"field": "type", "type": "nominal", "scale": {"domain": ["analytical wavelength only", "both wavelengths"], "range": [[1, 0], [15, 8]]}, "legend": {"title": null}}
                }
              },
              {
                "width": 692, "height": 364,
                "view": {"stroke": "#000000", "strokeWidth": 1.6},
                "title": {"text": "analytical wavelength with positive offset"},
                "data": {"name": "calib"},
                "transform": [{"filter": "datum.panel == 'pos'"}],
                "mark": {"type": "line", "color": "#ff3020", "strokeWidth": 3},
                "encoding": {
                  "x": {"field": "conc", "type": "quantitative", "scale": {"domain": [-0.08, 2.08], "nice": false, "zero": false}, "axis": {"title": "concentration (mM)", "values": [0, 0.5, 1, 1.5, 2], "format": ".1f"}},
                  "y": {"field": "abs", "type": "quantitative", "scale": {"domain": [-0.01636, 0.42536], "nice": false, "zero": false}, "axis": {"title": "absorbance", "values": [0, 0.1, 0.2, 0.3, 0.4], "format": ".1f"}},
                  "strokeDash": {"field": "type", "type": "nominal", "scale": {"domain": ["analytical wavelength only", "both wavelengths"], "range": [[1, 0], [15, 8]]}, "legend": {"title": null}}
                }
              }
            ],
            "spacing": 247, "bounds": "flush",
            "resolve": {"scale": {"strokeDash": "independent"}, "legend": {"strokeDash": "independent"}}
          }
        ],
        "spacing": 0, "bounds": "flush",
        "resolve": {"scale": {"strokeDash": "independent"}, "legend": {"strokeDash": "independent"}}
      }
    ],
    "spacing": 1090, "bounds": "flush",
    "resolve": {"scale": {"strokeDash": "independent"}, "legend": {"strokeDash": "independent"}}
  }
]
}
